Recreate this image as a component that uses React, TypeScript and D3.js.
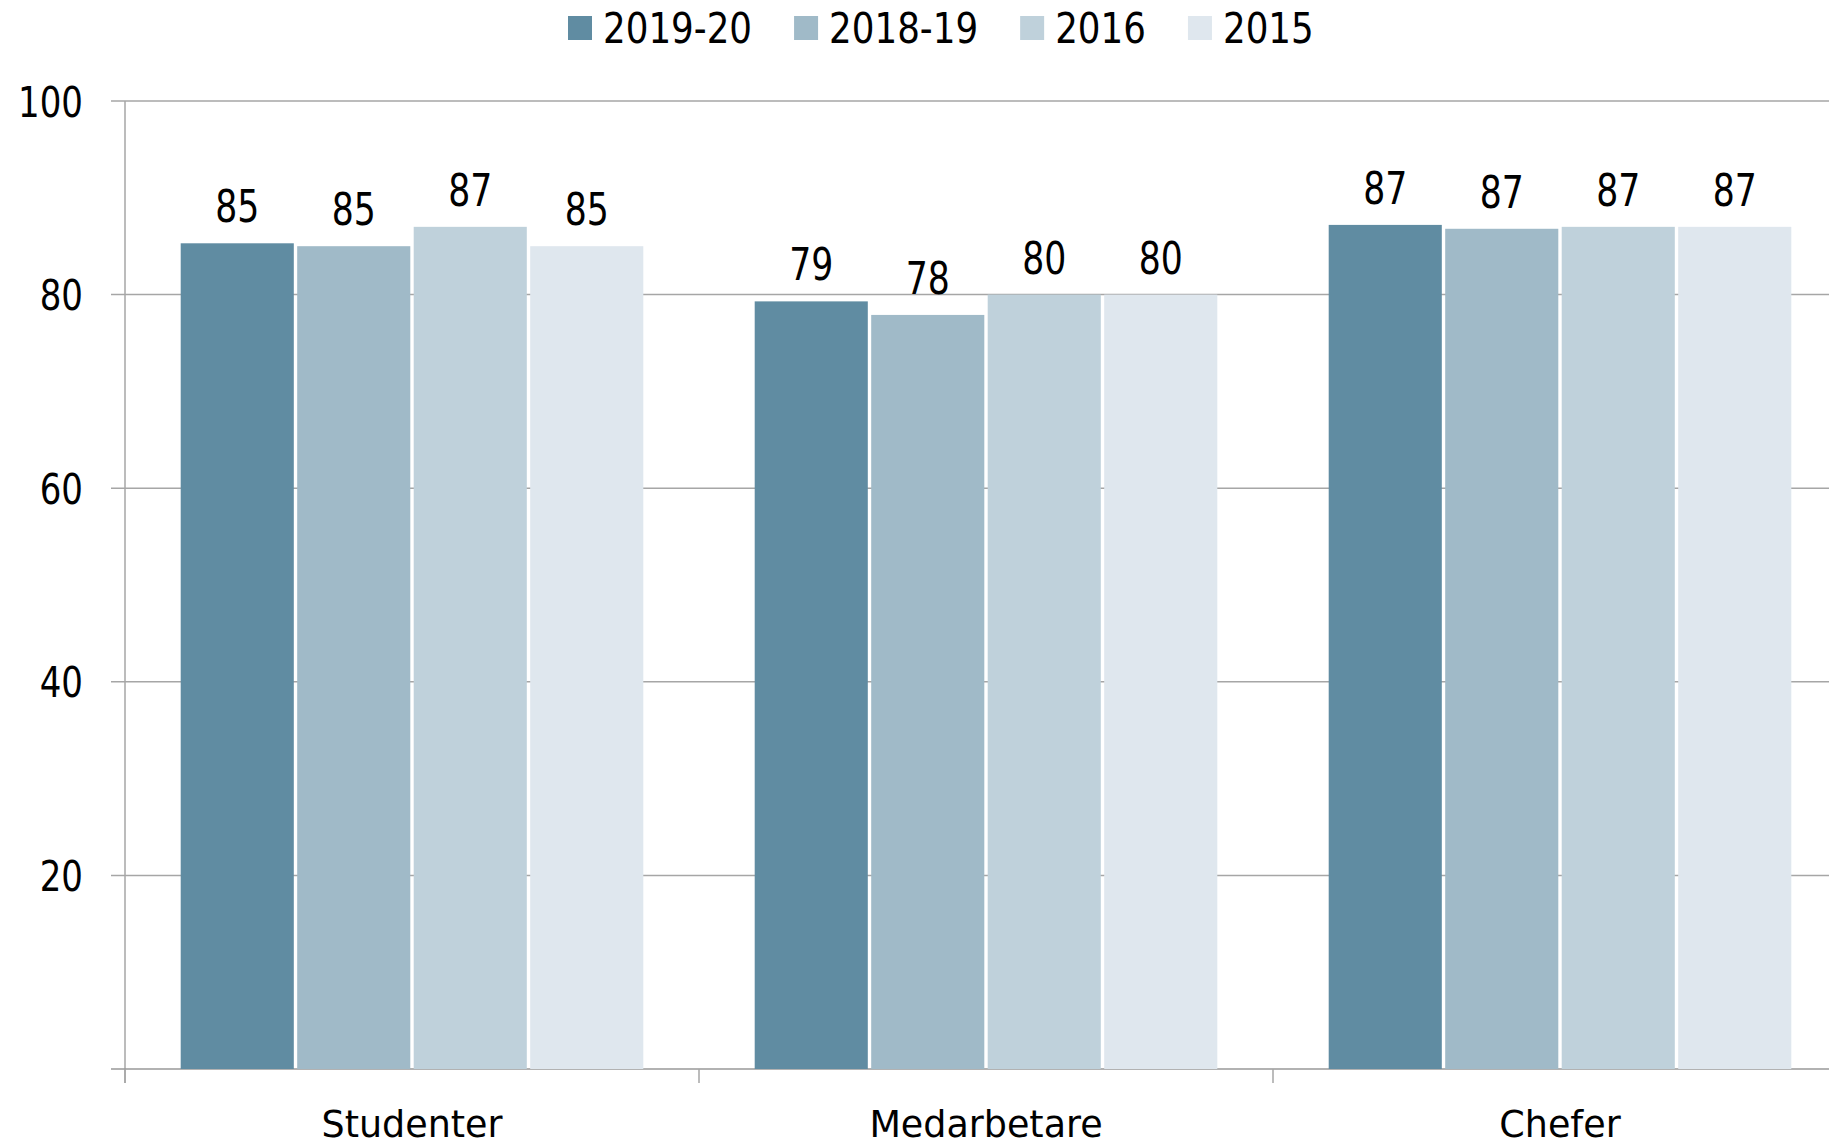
import React, { useEffect, useRef } from 'react';
import * as d3 from 'd3';

// data
const categories = ['Studenter', 'Medarbetare', 'Chefer'];
const seriesNames = ['2019-20', '2018-19', '2016', '2015'];
const values2019_20 = [85.3, 79.3, 87.2];
const values2018_19 = [85.0, 77.9, 86.8];
const values2016 = [87.0, 80.0, 87.0];
const values2015 = [85.0, 80.0, 87.0];
const yTicks = [20, 40, 60, 80, 100];
const colors = ['#608ca2', '#a0bac8', '#bfd1db', '#dfe7ee'];

const seriesValues = [values2019_20, values2018_19, values2016, values2015];

const FONT = '"DejaVu Sans", Verdana, sans-serif';

function App() {
  const svgRef = useRef<SVGSVGElement | null>(null);

  useEffect(() => {
    const W = 1829, H = 1147;
    const svg = d3.select(svgRef.current).attr('width', W).attr('height', H);
    svg.selectAll('*').remove();

    const left = 125, right = 1847, top = 101, bottom = 1069;

    const x0 = d3.scaleBand<string>().domain(categories).range([left, right]).padding(0);
    const x1 = d3.scaleBand<string>().domain(seriesNames)
      .range([54, x0.bandwidth() - 54]).padding(0);
    const y = d3.scaleLinear().domain([0, 100]).range([bottom, top]);

    const grid = '#a6a6a6';

    // gridlines + y labels
    const g = svg.append('g');
    yTicks.forEach(t => {
      g.append('line')
        .attr('x1', left - 14).attr('x2', W)
        .attr('y1', y(t)).attr('y2', y(t))
        .attr('stroke', grid).attr('stroke-width', 1.5);
      g.append('text')
        .attr('transform', `translate(83, ${y(t) + 15.5}) scale(0.8, 1)`)
        .attr('text-anchor', 'end')
        .style('font-family', FONT)
        .style('font-size', '42.5px')
        .attr('fill', '#000')
        .text(t);
    });

    // bars
    const rows = categories.flatMap((c, i) =>
      seriesNames.map((s, j) => ({ cat: c, series: s, idx: j, value: seriesValues[j][i] })));

    svg.append('g').selectAll('rect')
      .data(rows)
      .join('rect')
      .attr('x', d => x0(d.cat)! + x1(d.series)! + 1.7)
      .attr('y', d => y(d.value))
      .attr('width', x1.bandwidth() - 3.4)
      .attr('height', d => bottom - y(d.value))
      .attr('fill', d => colors[d.idx]);

    // value labels
    svg.append('g').selectAll('text')
      .data(rows)
      .join('text')
      .attr('transform', d =>
        `translate(${x0(d.cat)! + x1(d.series)! + x1.bandwidth() / 2}, ${y(d.value) - 21}) scale(0.77, 1)`)
      .attr('text-anchor', 'middle')
      .style('font-family', FONT)
      .style('font-size', '45px')
      .attr('fill', '#000')
      .text(d => Math.round(d.value));

    // axes lines
    g.append('line')
      .attr('x1', left).attr('x2', left)
      .attr('y1', top).attr('y2', bottom + 14)
      .attr('stroke', grid).attr('stroke-width', 1.5);
    g.append('line')
      .attr('x1', left - 14).attr('x2', W)
      .attr('y1', bottom).attr('y2', bottom)
      .attr('stroke', '#999').attr('stroke-width', 1.5);
    categories.forEach(c => {
      g.append('line')
        .attr('x1', x0(c)!).attr('x2', x0(c)!)
        .attr('y1', bottom).attr('y2', bottom + 14)
        .attr('stroke', grid).attr('stroke-width', 1.5);
    });

    // category labels
    svg.append('g').selectAll('text')
      .data(categories)
      .join('text')
      .attr('transform', d => `translate(${x0(d)! + x0.bandwidth() / 2}, 1137) scale(0.96, 1)`)
      .attr('text-anchor', 'middle')
      .style('font-family', FONT)
      .style('font-size', '38px')
      .attr('fill', '#000')
      .text(d => d);

    // legend
    const legend = svg.append('g');
    let lx = 568;
    const sx = 0.83;
    seriesNames.forEach((s, j) => {
      legend.append('rect')
        .attr('x', lx).attr('y', 16)
        .attr('width', 24).attr('height', 24)
        .attr('fill', colors[j]);
      const t = legend.append('text')
        .attr('transform', `translate(${lx + 35}, 43) scale(${sx}, 1)`)
        .style('font-family', FONT)
        .style('font-size', '43px')
        .attr('fill', '#000')
        .text(s);
      const len = (t.node() as SVGTextElement).getComputedTextLength() * sx;
      lx = lx + 35 + len + 42;
    });
  }, []);

  return (
    <div style={{ position: 'absolute', left: 0, top: 0, width: 1829, height: 1147, overflow: 'hidden', background: '#fff' }}>
      <svg ref={svgRef} style={{ display: 'block' }}></svg>
    </div>
  );
}

export default App;
